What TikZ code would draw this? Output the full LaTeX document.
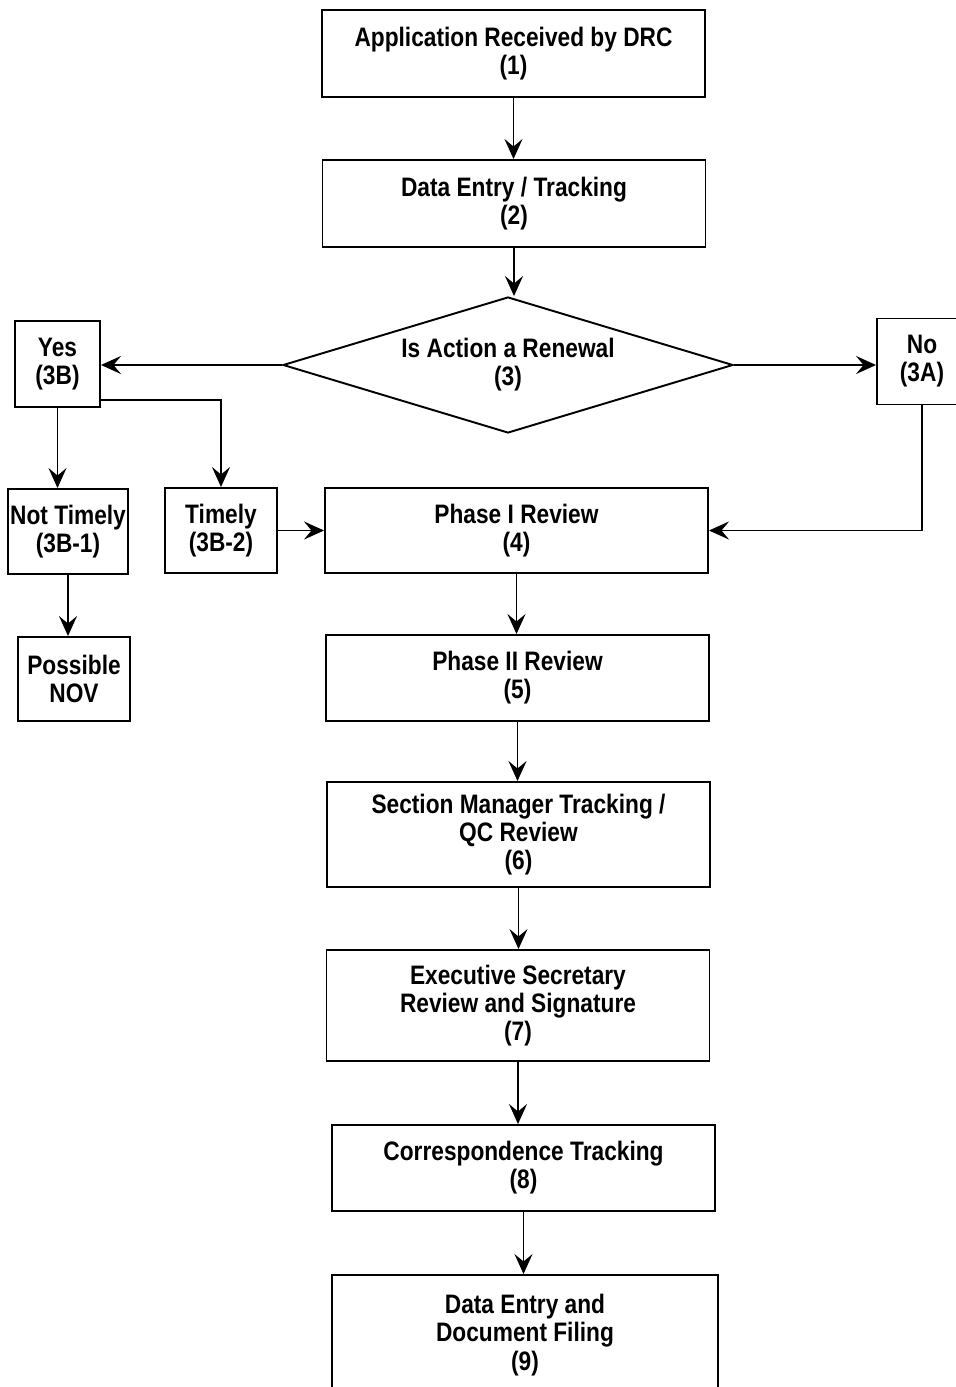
\documentclass[tikz,border=0pt]{standalone}
\usepackage{fontspec}
\newfontfamily\flowfont{Liberation Sans}[FakeStretch=0.85]
\usetikzlibrary{arrows.meta,shapes.geometric}

\begin{document}
\begin{tikzpicture}[
  box/.style={draw, line width=1.1pt, align=center, inner sep=0pt, font=\flowfont\bfseries\fontsize{15.2}{16}\selectfont},
  wide/.style={box, minimum width=7.66cm},
  small/.style={box, minimum height=1.72cm},
  decision/.style={box, diamond, aspect=3.31, minimum width=9.0cm, minimum height=2.72cm},
  arrow/.style={-{Stealth[length=4mm, width=3.6mm, inset=1.5mm]}, line width=1.1pt}
]
\useasboundingbox (0,0) rectangle (19.12,-27.74);

\node[wide, minimum height=1.74cm] (received) at (10.27,-1.07) {Application Received by DRC\\(1)};
\node[wide, minimum height=1.74cm] (entry) at (10.28,-4.07) {Data Entry / Tracking\\(2)};
\node[decision] (renewal) at (10.16,-7.30) {Is Action a Renewal\\(3)};
\node[small, minimum width=1.70cm] (yes) at (1.15,-7.28) {Yes\\(3B)};
\node[small, minimum width=1.80cm] (no) at (18.44,-7.23) {No\\(3A)};
\node[small, minimum width=2.40cm, minimum height=1.70cm] (nottimely) at (1.36,-10.63) {Not Timely\\(3B-1)};
\node[small, minimum width=2.24cm, minimum height=1.70cm] (timely) at (4.42,-10.61) {Timely\\(3B-2)};
\node[wide, minimum height=1.70cm] (phaseone) at (10.33,-10.61) {Phase I Review\\(4)};
\node[small, minimum width=2.24cm, minimum height=1.68cm] (nov) at (1.48,-13.58) {Possible\\NOV};
\node[wide, minimum height=1.72cm] (phasetwo) at (10.35,-13.56) {Phase II Review\\(5)};
\node[wide, minimum height=2.10cm] (qc) at (10.37,-16.69) {Section Manager Tracking /\\QC Review\\(6)};
\node[wide, minimum height=2.22cm] (secretary) at (10.36,-20.11) {Executive Secretary\\Review and Signature\\(7)};
\node[wide, minimum height=1.72cm] (corresp) at (10.47,-23.36) {Correspondence Tracking\\(8)};
\node[wide, minimum width=7.72cm, minimum height=2.40cm] (filing) at (10.50,-26.70) {Data Entry and\\Document Filing\\(9)};

\draw[arrow] (received.south) -- (received.south |- entry.north);
\draw[arrow] (entry.south) -- (entry.south |- renewal.north);
\draw[arrow] (renewal.west) -- (renewal.west -| yes.east);
\draw[arrow] (renewal.east) -- (renewal.east -| no.west);
\draw[arrow] (no.south) |- (phaseone.east);
\draw[arrow] (yes.south) -- (yes.south |- nottimely.north);
\draw[arrow] ([yshift=0.16cm]yes.south east) -| (timely.north);
\draw[arrow] (nottimely.south) -- (nottimely.south |- nov.north);
\draw[arrow] (timely.east) -- (timely.east -| phaseone.west);
\draw[arrow] (phaseone.south) -- (phaseone.south |- phasetwo.north);
\draw[arrow] (phasetwo.south) -- (phasetwo.south |- qc.north);
\draw[arrow] (qc.south) -- (qc.south |- secretary.north);
\draw[arrow] (secretary.south) -- (secretary.south |- corresp.north);
\draw[arrow] (corresp.south) -- (corresp.south |- filing.north);
\end{tikzpicture}
\end{document}
